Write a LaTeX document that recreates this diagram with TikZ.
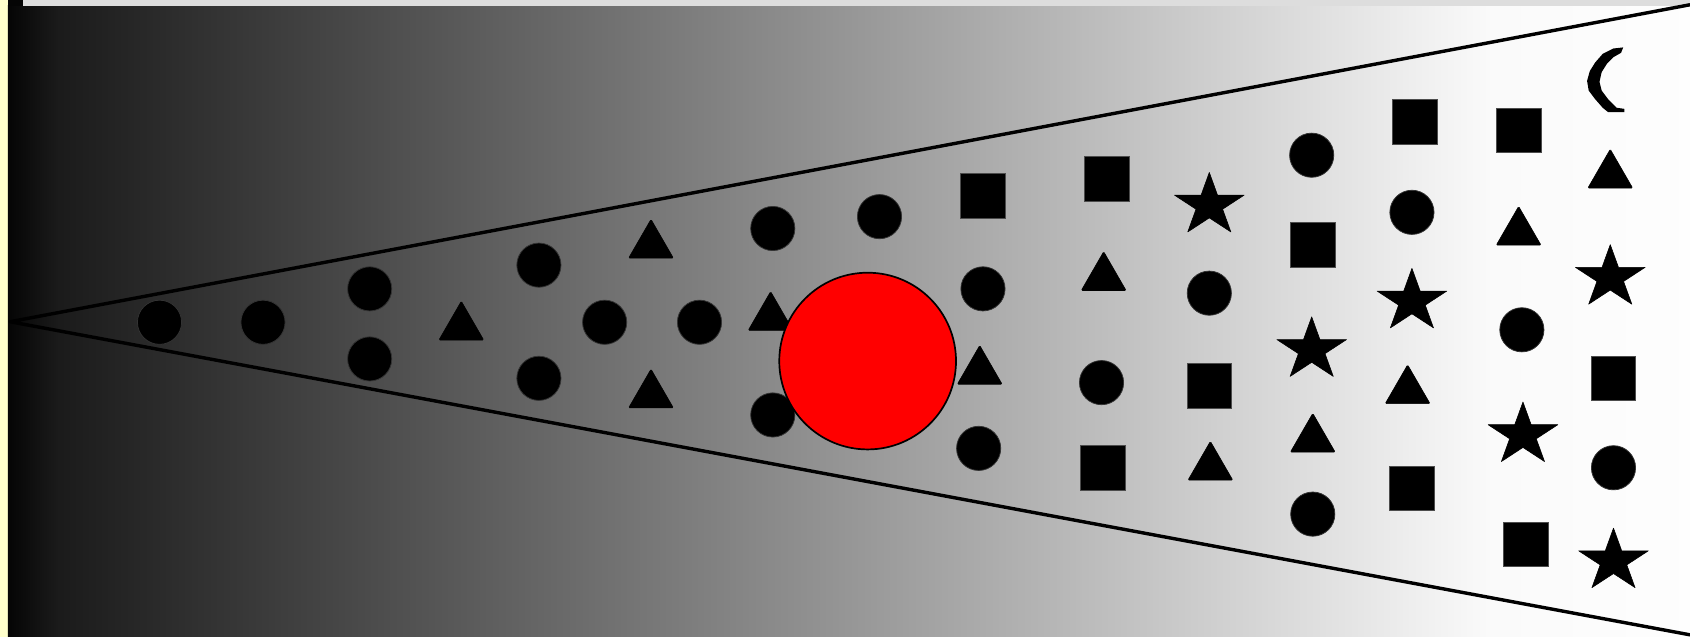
\documentclass[tikz,border=0pt]{standalone}
\usetikzlibrary{shapes.geometric}
\pgfdeclarehorizontalshading{bgshade}{100bp}{rgb(0bp)=(0.02,0.02,0.02); rgb(25bp)=(0.02,0.02,0.02); rgb(26.5bp)=(0.105,0.105,0.105); rgb(69bp)=(0.98,0.98,0.98); rgb(75bp)=(0.995,0.995,0.995); rgb(100bp)=(0.995,0.995,0.995)}
\definecolor{paleyellow}{HTML}{FFFFCC}
\definecolor{topgray}{HTML}{DDDDDD}
\tikzset{
  dot/.style={circle, fill=black, draw=black!80, line width=0.4pt, minimum size=0.82cm, inner sep=0pt},
  sq/.style={rectangle, fill=black, draw=black!70, line width=0.4pt, minimum size=0.83cm, inner sep=0pt},
  tri/.style={regular polygon, regular polygon sides=3, fill=black, draw=black, line width=0.3pt, minimum size=0.96cm, inner sep=0pt, rounded corners=0.6pt},
  cone/.style={draw=black, line width=1.8pt, line join=round},
  pics/fivestar/.style={code={
    \coordinate (-c) at (0,0);
    \fill[black, draw=black, line width=0.3pt, line join=round]
      (0,-30.5) -- (7.63,-9.43) -- (32.3,-9.43) -- (12.35,3.6) -- (20,24.7)
      -- (0,11.65) -- (-20,24.7) -- (-12.35,3.6) -- (-32.3,-9.43) -- (-7.63,-9.43) -- cycle;
  }},
}
\begin{document}
\begin{tikzpicture}[x=0.02cm, y=-0.02cm]
\useasboundingbox (0,0) rectangle (1568,591);
% background
\fill[paleyellow] (0,0) rectangle (7.4,591);
\shade[shading=bgshade] (7.4,5.5) rectangle (1568,591);
\fill[black!98] (7.4,0) rectangle (21.3,5.5);
\fill[topgray] (21.3,0) rectangle (1568,5.5);
% circles
\node[dot] (c1) at (148,299) {};
\node[dot] (c2) at (244,299) {};
\node[dot] (c3) at (343,268) {};
\node[dot] (c4) at (343,333) {};
\node[dot] (c5) at (500,246) {};
\node[dot] (c6) at (500,351) {};
\node[dot] (c7) at (561,299) {};
\node[dot] (c8) at (649,299) {};
\node[dot] (c9) at (717,212) {};
\node[dot] (c10) at (717,385) {};
\node[dot] (c11) at (816,201) {};
\node[dot] (c12) at (912,268) {};
\node[dot] (c13) at (908,416) {};
\node[dot] (c14) at (1022,355) {};
\node[dot] (c15) at (1122,272) {};
\node[dot] (c16) at (1217,144) {};
\node[dot] (c17) at (1218,477) {};
\node[dot] (c18) at (1310,197) {};
\node[dot] (c19) at (1412,306) {};
\node[dot] (c20) at (1497,434) {};
% triangles
\node[tri] (t1) at (428,303.5) {};
\node[tri] (t2) at (604,227.5) {};
\node[tri] (t3) at (604,366.5) {};
\node[tri] (t4) at (715,294.5) {};
\node[tri] (t5) at (909,344.5) {};
\node[tri] (t6) at (1024,257.5) {};
\node[tri] (t7) at (1123,433.5) {};
\node[tri] (t8) at (1218,407.5) {};
\node[tri] (t9) at (1306,362.5) {};
\node[tri] (t10) at (1409,215.5) {};
\node[tri] (t11) at (1494,162.5) {};
% squares
\node[sq] (s1) at (912,182) {};
\node[sq] (s2) at (1027,166) {};
\node[sq] (s3) at (1218,227) {};
\node[sq] (s4) at (1313,113) {};
\node[sq] (s5) at (1409,121) {};
\node[sq] (s6) at (1122,358) {};
\node[sq] (s7) at (1023,434) {};
\node[sq] (s8) at (1310,453) {};
\node[sq] (s9) at (1497,351) {};
\node[sq] (s10) at (1416,505) {};
% stars
\pic (st1) at (1122,190.5) {fivestar};
\pic (st2) at (1217,324.5) {fivestar};
\pic (st3) at (1310,279.5) {fivestar};
\pic (st4) at (1494,257.5) {fivestar};
\pic (st5) at (1413,403.5) {fivestar};
\pic (st6) at (1497,520.5) {fivestar};
% crescent
\fill[black] (1506,44) -- (1497,45) -- (1487,50) -- (1480,58) -- (1475,66) -- (1472.5,75) -- (1474,84) -- (1480,92) -- (1487,100) -- (1492,104) -- (1507,104)
  -- (1507,101) -- (1500,100) -- (1492,92) -- (1486,84) -- (1484,76) -- (1486,67) -- (1491,59) -- (1497,53) -- (1504,49) -- cycle;
% red circle
\node[circle, fill=red, draw=black, line width=0.9pt, minimum size=3.28cm, inner sep=0pt] (big) at (805,335) {};
% cone
\coordinate (apex) at (9.3,298.5);
\coordinate (topend) at (1568,4.4);
\coordinate (botend) at (1568,589);
\draw[cone] (topend) -- (apex) -- (botend);
\end{tikzpicture}
\end{document}
